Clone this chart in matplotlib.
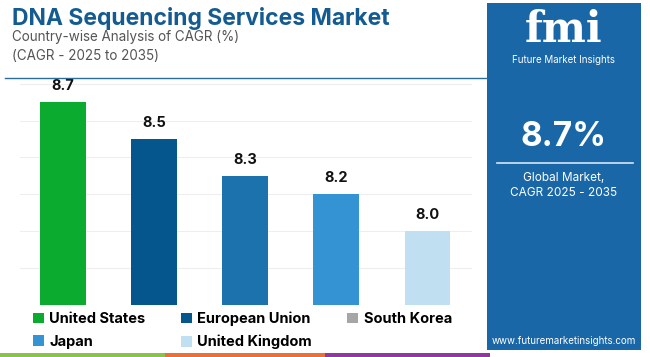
import matplotlib.pyplot as plt
from matplotlib.patches import Rectangle, Patch
from matplotlib.lines import Line2D

plt.rcParams['font.family'] = ['Inter', 'DejaVu Sans']

# data
countries = ['United States', 'European Union', 'South Korea', 'Japan', 'United Kingdom']
cagr = [8.7, 8.5, 8.3, 8.2, 8.0]
bar_colors = ['#0aab2e', '#04568c', '#1b72ad', '#3393d3', '#c0dff0']
legend_colors = ['#0aab2e', '#04568c', '#a6a6a6', '#3393d3', '#c0dff0']
global_cagr = '8.7%'

W, H = 650, 357
fig = plt.figure(figsize=(W / 100, H / 100), dpi=100)

# main bar axes (pixel box: x 20-472, y 80-305)
ax = fig.add_axes([20 / W, 1 - 305 / H, 452 / W, 225 / H])
x = range(len(countries))
ax.bar(x, cagr, width=0.5, color=bar_colors, zorder=3)
for xi, v in zip(x, cagr):
    ax.text(xi, v + 0.05, f'{v:.1f}', ha='center', va='bottom',
            fontsize=10.5, fontweight='bold', color='#111111')
ax.set_ylim(7.6, 8.82)
ax.set_xlim(-0.47, 4.49)
ax.set_yticks([7.8, 8.0, 8.2, 8.4, 8.6, 8.8])
ax.grid(axis='y', color='#eeeeee', linewidth=0.8, zorder=0)
ax.tick_params(left=False, bottom=False, labelleft=False, labelbottom=False)
for s in ax.spines.values():
    s.set_visible(False)

# title block
fig.text(12 / W, 1 - 18 / H, 'DNA Sequencing Services Market', fontsize=16.5,
         fontweight='bold', color='#135b91', va='center', ha='left')
fig.text(12 / W, 1 - 37 / H, 'Country-wise Analysis of CAGR (%)', fontsize=9.7,
         color='#555555', va='center', ha='left')
fig.text(12 / W, 1 - 56 / H, '(CAGR - 2025 to 2035)', fontsize=9.7,
         color='#555555', va='center', ha='left')
fig.add_artist(Line2D([5 / W, 487 / W], [1 - 78 / H, 1 - 78 / H],
                      color='#2a6c9c', linewidth=1.0))

# legend, filled row by row (matplotlib fills by column)
order = [0, 3, 1, 4, 2]
handles = [Patch(facecolor=legend_colors[i], edgecolor='none') for i in order]
labels = [countries[i] for i in order]
fig.legend(handles, labels, loc='upper left', bbox_to_anchor=(21 / W, 1 - 300 / H),
           ncol=3, frameon=False, prop={'weight': 'bold', 'size': 10.5},
           handlelength=0.75, handleheight=0.75, handletextpad=0.4,
           columnspacing=2.4, labelspacing=0.6, borderpad=0.3)

# bottom colour strip
for x0, x1, c in [(0, 165, '#8bc34a'), (165, 325, '#e8703a'), (325, 490, '#8e3a9c')]:
    fig.add_artist(Rectangle((x0 / W, 0), (x1 - x0) / W, 4 / H,
                             facecolor=c, edgecolor='none'))

# right side panel
fig.add_artist(Rectangle((487 / W, 1 - 350 / H), 154 / W, 347 / H,
                         facecolor='#1a67a8', edgecolor='none'))
cx = 564 / W
fig.text(cx, 1 - 30 / H, 'fmi', fontsize=30, fontweight='bold', color='white',
         ha='center', va='center', family='DejaVu Serif')
fig.text(cx, 1 - 60 / H, 'Future Market Insights', fontsize=7, color='white',
         ha='center', va='center')
fig.text(cx, 1 - 137 / H, global_cagr, fontsize=24, fontweight='bold',
         color='white', ha='center', va='center')
fig.add_artist(Line2D([497 / W, 633 / W], [1 - 163 / H, 1 - 163 / H],
                      color='#d6e6f3', linewidth=1.2))
fig.text(cx, 1 - 178 / H, 'Global Market,', fontsize=8.5, color='white',
         ha='center', va='center')
fig.text(cx, 1 - 193 / H, 'CAGR 2025 - 2035', fontsize=8.5, color='white',
         ha='center', va='center')
fig.text(cx, 1 - 341 / H, 'www.futuremarketinsights.com', fontsize=7,
         color='white', ha='center', va='center')

fig.savefig('out.png', dpi=100)
